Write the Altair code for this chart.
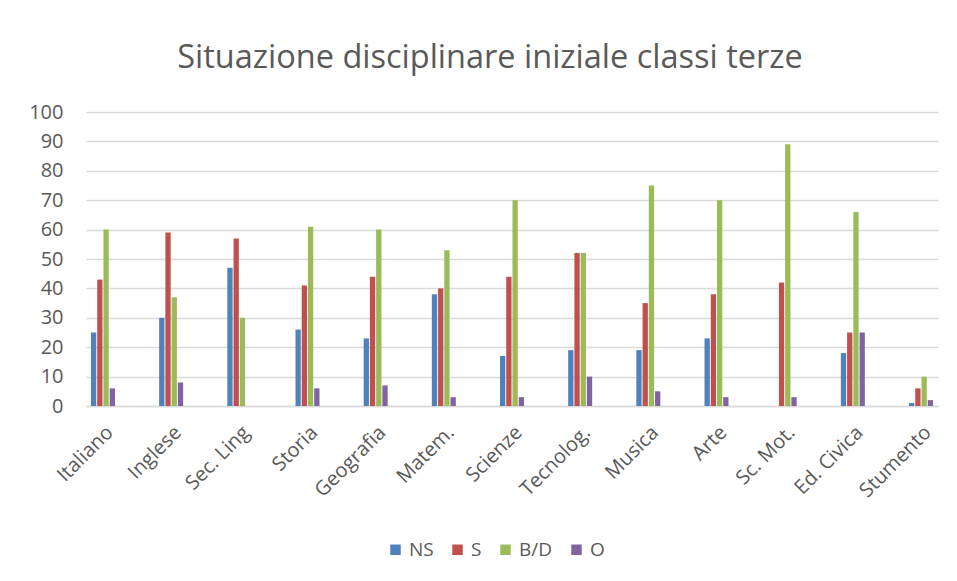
import altair as alt
import pandas as pd

materie = ["Italiano", "Inglese", "Sec. Ling", "Storia", "Geografia", "Matem.", "Scienze",
           "Tecnolog.", "Musica", "Arte", "Sc. Mot.", "Ed. Civica", "Stumento"]
serie = ["NS", "S", "B/D", "O"]
ns = [25, 30, 47, 26, 23, 38, 17, 19, 19, 23, 0, 18, 1]
s = [43, 59, 57, 41, 44, 40, 44, 52, 35, 38, 42, 25, 6]
bd = [60, 37, 30, 61, 60, 53, 70, 52, 75, 70, 89, 66, 10]
o = [6, 8, 0, 6, 7, 3, 3, 10, 5, 3, 3, 25, 2]
colori = ["#4F81BD", "#C0504D", "#9BBB59", "#8064A2"]

rows = []
for name, vals in zip(serie, [ns, s, bd, o]):
    for m, v in zip(materie, vals):
        rows.append({"Materia": m, "Giudizio": name, "Valore": v})
df = pd.DataFrame(rows)

FONT = "Open Sans"
TXT = "#595959"

chart = alt.Chart(df).mark_bar().encode(
    x=alt.X("Materia:N", sort=materie, title=None,
            scale=alt.Scale(paddingInner=0.648, paddingOuter=0.073),
            axis=alt.Axis(labelAngle=-45, labelFontSize=20, labelColor=TXT, labelFont=FONT,
                          ticks=False, domainColor="#D9D9D9", domainWidth=1.5,
                          labelPadding=16, grid=False)),
    xOffset=alt.XOffset("Giudizio:N", sort=serie, scale=alt.Scale(paddingInner=0.15)),
    y=alt.Y("Valore:Q", title=None,
            scale=alt.Scale(domain=[0, 100]),
            axis=alt.Axis(values=list(range(0, 101, 10)), labelFontSize=20, labelColor=TXT,
                          labelFont=FONT, ticks=False, domain=False, gridColor="#D9D9D9",
                          gridWidth=1.5, labelPadding=23, minExtent=73, maxExtent=73)),
    color=alt.Color("Giudizio:N", sort=serie,
                    scale=alt.Scale(domain=serie, range=colori),
                    legend=alt.Legend(title=None, orient="none", direction="horizontal",
                                      legendX=300, legendY=428, symbolType="square",
                                      symbolSize=110, symbolStrokeWidth=0,
                                      labelFontSize=19, labelColor=TXT, labelFont=FONT,
                                      columnPadding=14, labelOffset=4)),
).properties(
    width=852,
    height=294,
    padding={"left": 5, "top": 33, "right": 5, "bottom": 10},
    title=alt.TitleParams("Situazione disciplinare iniziale classi terze", fontSize=32.5,
                          font=FONT, fontWeight="normal", color=TXT, offset=28,
                          anchor="middle", dx=-22),
).configure_view(stroke=None)

chart.save("out.html", embed_options={"renderer": "svg", "actions": False})
